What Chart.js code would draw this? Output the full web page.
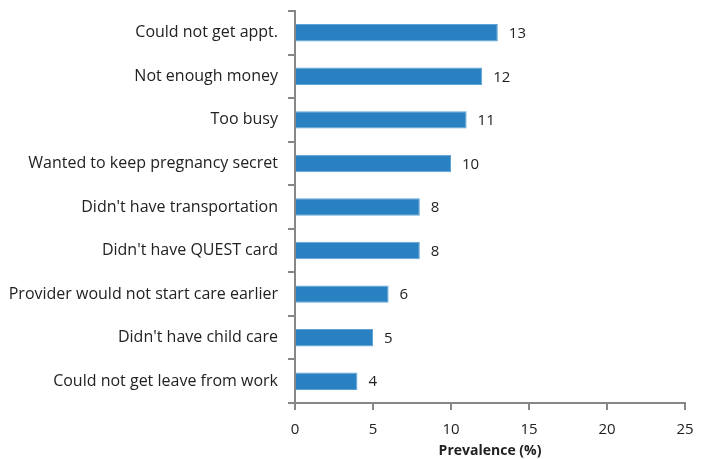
<!DOCTYPE html>
<html>
<head>
<meta charset="utf-8">
<script src="https://cdn.jsdelivr.net/npm/chart.js@4.4.1/dist/chart.umd.min.js"></script>
<style>
  html, body { margin: 0; padding: 0; background: #fff; }
  #wrap { width: 709px; height: 459px; position: relative; }
</style>
</head>
<body>
<div id="wrap"><canvas id="chart"></canvas></div>
<script>
// data
const reasons = [
    "Could not get appt.",
    "Not enough money",
    "Too busy",
    "Wanted to keep pregnancy secret",
    "Didn't have transportation",
    "Didn't have QUEST card",
    "Provider would not start care earlier",
    "Didn't have child care",
    "Could not get leave from work",
];
const prevalence = [13, 12, 11, 10, 8, 8, 6, 5, 4];
const xTicks = [0, 5, 10, 15, 20, 25];

const FONT = "'Open Sans', sans-serif";
const AXIS_GREY = "#878787";

// value labels at the end of each bar
const barLabels = {
    id: "barLabels",
    afterDatasetsDraw(chart) {
        const ctx = chart.ctx;
        const meta = chart.getDatasetMeta(0);
        ctx.save();
        ctx.font = "15px " + FONT;
        ctx.fillStyle = "#222";
        ctx.textBaseline = "middle";
        ctx.textAlign = "left";
        meta.data.forEach((bar, i) => {
            ctx.fillText(String(prevalence[i]), bar.x + 11, bar.y + 1);
        });
        ctx.restore();
    },
};

new Chart(document.getElementById("chart").getContext("2d"), {
    type: "bar",
    data: {
        labels: reasons,
        datasets: [{
            data: prevalence,
            backgroundColor: "#2A81C1",
            borderColor: "#5EA3D6",
            borderWidth: 1,
            borderSkipped: "start",
            barPercentage: 0.4,
            categoryPercentage: 1.0,
        }],
    },
    options: {
        indexAxis: "y",
        responsive: true,
        maintainAspectRatio: false,
        animation: false,
        layout: { padding: { top: 11, right: 24, bottom: 0, left: 0 } },
        plugins: { legend: { display: false }, tooltip: { enabled: false } },
        scales: {
            x: {
                min: 0,
                max: 25,
                afterBuildTicks: (axis) => { axis.ticks = xTicks.map((v) => ({ value: v })); },
                afterFit: (axis) => { axis.height = 56; },
                border: { display: true, color: AXIS_GREY, width: 2 },
                grid: { drawOnChartArea: false, drawTicks: true, tickLength: 7, color: AXIS_GREY, lineWidth: 2 },
                ticks: { color: "#222", font: { family: FONT, size: 15 }, padding: 11, maxRotation: 0 },
                title: {
                    display: true,
                    text: "Prevalence (%)",
                    color: "#222",
                    font: { family: FONT, size: 14, weight: "bold" },
                    padding: { top: 0, bottom: 0 },
                },
            },
            y: {
                afterFit: (axis) => {
                    axis.width = 295;
                    axis.paddingTop = 0;
                    axis.paddingBottom = 0;
                },
                border: { display: true, color: AXIS_GREY, width: 2 },
                grid: { offset: true, drawOnChartArea: false, drawTicks: true, tickLength: 7, color: AXIS_GREY, lineWidth: 2 },
                ticks: { color: "#222", font: { family: FONT, size: 16 }, padding: 10, autoSkip: false },
            },
        },
    },
    plugins: [barLabels],
});
</script>
</body>
</html>
